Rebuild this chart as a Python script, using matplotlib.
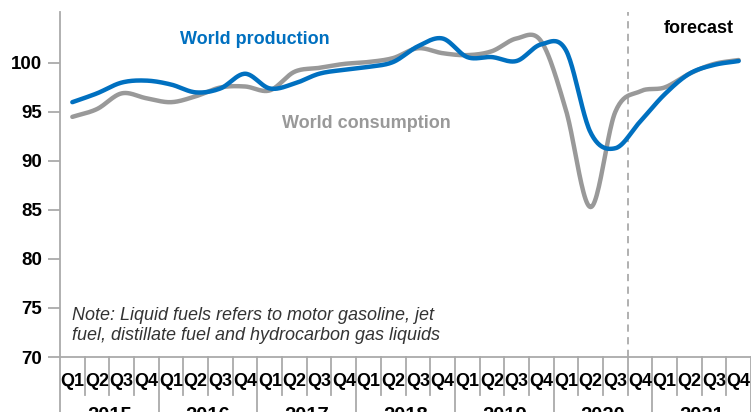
import matplotlib
matplotlib.use('Agg')
import matplotlib.pyplot as plt
import matplotlib.transforms as mtransforms
import numpy as np

plt.rcParams['font.family'] = ['Liberation Sans Narrow', 'Liberation Sans', 'DejaVu Sans']

years = ['2015', '2016', '2017', '2018', '2019', '2020', '2021']
quarters = ['Q1', 'Q2', 'Q3', 'Q4']
production = [96.0, 96.9, 98.0, 98.2, 97.8, 97.0, 97.4, 98.9, 97.4, 97.9,
              98.9, 99.3, 99.6, 100.1, 101.7, 102.5, 100.6, 100.6, 100.2, 101.9,
              101.3, 92.9, 91.3, 94.0, 96.8, 98.9, 99.8, 100.2]
consumption = [94.5, 95.3, 96.9, 96.4, 96.0, 96.6, 97.5, 97.6, 97.2, 99.1,
               99.5, 99.9, 100.1, 100.5, 101.5, 101.0, 100.8, 101.2, 102.5, 102.2,
               95.2, 85.3, 95.0, 97.1, 97.5, 98.9, 99.9, 100.3]
forecast_start = 22.5

BLUE = '#0070C0'
GRAY = '#999999'


def smooth(x, y, n=24):
    # catmull-rom through the points, like excel's smoothed line
    x = np.asarray(x, float)
    y = np.asarray(y, float)
    px = np.r_[2 * x[0] - x[1], x, 2 * x[-1] - x[-2]]
    py = np.r_[2 * y[0] - y[1], y, 2 * y[-1] - y[-2]]
    t = np.linspace(0, 1, n, endpoint=False)
    xs, ys = [], []
    for i in range(1, len(px) - 2):
        for p, out in ((px, xs), (py, ys)):
            p0, p1, p2, p3 = p[i - 1], p[i], p[i + 1], p[i + 2]
            out.append(0.5 * ((2 * p1) + (-p0 + p2) * t
                              + (2 * p0 - 5 * p1 + 4 * p2 - p3) * t ** 2
                              + (-p0 + 3 * p1 - 3 * p2 + p3) * t ** 3))
    xs.append([x[-1]])
    ys.append([y[-1]])
    return np.concatenate(xs), np.concatenate(ys)


fig = plt.figure(figsize=(7.51, 4.12), dpi=100)
ax = fig.add_axes([60 / 751, 1 - 357 / 412, 691 / 751, 345 / 412])

idx = np.arange(len(production))
sx, sy = smooth(idx, consumption)
ax.plot(sx, sy, color=GRAY, lw=3.2, solid_capstyle='round', zorder=3)
sx, sy = smooth(idx, production)
ax.plot(sx, sy, color=BLUE, lw=3.2, solid_capstyle='round', zorder=4)

ax.axvline(forecast_start, color='#aaaaaa', lw=1.3, ls=(0, (4, 3)), zorder=2)

ax.set_xlim(-0.5, len(production) - 0.5)
ax.set_ylim(70, 105.2)
ax.set_yticks([70, 75, 80, 85, 90, 95, 100])
ax.tick_params(axis='y', length=9, width=1.3, color='#aaaaaa', labelsize=13.5, pad=4)
for lab in ax.get_yticklabels():
    lab.set_fontweight('bold')
ax.set_xticks([])
for s in ['top', 'right']:
    ax.spines[s].set_visible(False)
for s in ['left', 'bottom']:
    ax.spines[s].set_color('#aaaaaa')
    ax.spines[s].set_linewidth(1.3)

# two-level category axis
trans = mtransforms.blended_transform_factory(ax.transData, ax.transAxes)
for k in range(len(production)):
    ax.text(k, -0.07, quarters[k % 4], transform=trans, ha='center', va='center',
            fontsize=13, fontweight='bold', color='black')
for k in range(len(production) + 1):
    bottom = -0.3 if k % 4 == 0 else -0.11
    ax.plot([k - 0.5, k - 0.5], [0, bottom], transform=trans, color='#aaaaaa',
            lw=1.3, clip_on=False)
for j, yr in enumerate(years):
    ax.text(4 * j + 1.5, -0.17, yr, transform=trans, ha='center', va='center',
            fontsize=14.5, fontweight='bold', color='black')

ax.text(7.4, 102.35, 'World production', color=BLUE, fontsize=13,
        fontweight='bold', ha='center', va='center')
ax.text(11.9, 93.8, 'World consumption', color=GRAY, fontsize=13,
        fontweight='bold', ha='center', va='center')
ax.text(25.4, 103.5, 'forecast', color='black', fontsize=13,
        fontweight='bold', ha='center', va='center')
ax.text(0.0, 73.2, 'Note: Liquid fuels refers to motor gasoline, jet\n'
        'fuel, distillate fuel and hydrocarbon gas liquids',
        color='#333333', fontsize=13, style='italic', ha='left', va='center',
        linespacing=1.25, family=['Liberation Sans', 'DejaVu Sans'])

fig.savefig('out.png', dpi=100)
